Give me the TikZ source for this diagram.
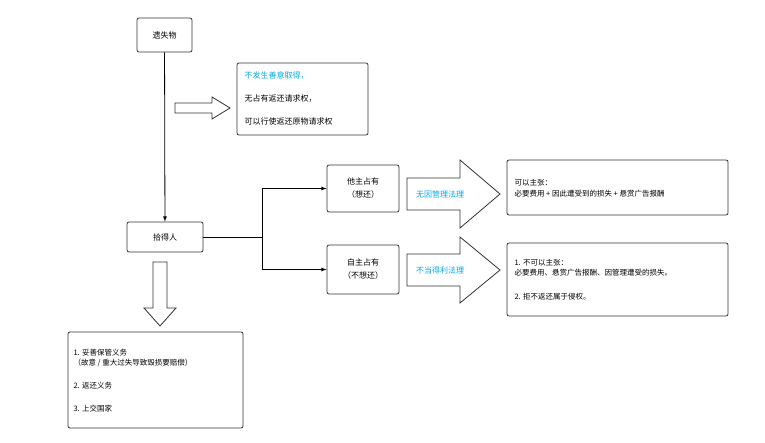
\documentclass[tikz,border=0pt]{standalone}
\usepackage{fontspec}
\setmainfont{Noto Sans CJK SC}
\definecolor{cyanb}{RGB}{0,170,235}
\begin{document}
\begin{tikzpicture}[x=1pt,y=-1pt,
 box/.style={draw=black!80,line width=0.8pt,rounded corners=2pt,fill=white},
 txt/.style={font=\fontsize{8}{11}\selectfont,align=left,anchor=west},
 hol/.style={draw=black!80,line width=0.8pt,fill=white},
 >=latex]
\useasboundingbox (0,0) rectangle (765,443);
\node[box,minimum width=55,minimum height=34,font=\fontsize{8}{10}\selectfont] (ys) at (164.5,35) {遗失物};
\node[box,minimum width=76,minimum height=30,font=\fontsize{8}{10}\selectfont] (sd) at (165,237) {拾得人};
\draw[->,line width=0.8pt] (ys) -- (sd);
\node[box,minimum width=131,minimum height=72] (t1) at (302.5,99) {};
\node[txt,text=cyanb] (t1a) at (241,76) {不发生善意取得，};
\node[txt] (t1b) at (241,99) {无占有返还请求权，};
\node[txt] (t1c) at (241,121) {可以行使返还原物请求权};
\draw[hol] (175,103) -- (212,103) -- (212,97) -- (230,108) -- (212,119) -- (212,113) -- (175,113) -- cycle;
\draw[hol] (153,262) -- (167,262) -- (167,308) -- (176,308) -- (160,326) -- (144,308) -- (153,308) -- cycle;
\node[box,minimum width=175,minimum height=96] (b) at (155.5,380) {};
\node[txt,font=\fontsize{7.5}{10}\selectfont] (b1) at (70,358) {1. 妥善保管义务\\（故意 / 重大过失导致毁损要赔偿）};
\node[txt,font=\fontsize{7.5}{10}\selectfont] (b2) at (70,386) {2. 返还义务};
\node[txt,font=\fontsize{7.5}{10}\selectfont] (b3) at (70,409) {3. 上交国家};
\node[box,minimum width=72,minimum height=47,align=center,font=\fontsize{8}{13}\selectfont] (tz) at (363,188.5) {他主占有\\（想还）};
\node[box,minimum width=72,minimum height=49,align=center,font=\fontsize{8}{13}\selectfont] (zz) at (363,269.5) {自主占有\\（不想还）};
\coordinate (j) at (262,237);
\draw[line width=0.8pt] (sd.east) -- (j);
\draw[->,line width=0.8pt] (j) |- (tz.west);
\draw[->,line width=0.8pt] (j) |- (zz.west);
\draw[hol] (407,178) -- (460,178) -- (460,160) -- (500,194) -- (460,228) -- (460,210) -- (407,210) -- cycle;
\node[font=\fontsize{8}{10}\selectfont,text=cyanb] (l1) at (440,194) {无因管理法理};
\draw[hol] (407,254) -- (460,254) -- (460,237) -- (500,270) -- (460,303) -- (460,286) -- (407,286) -- cycle;
\node[font=\fontsize{8}{10}\selectfont,text=cyanb] (l2) at (440,270) {不当得利法理};
\node[box,minimum width=221,minimum height=55] (r1) at (617.5,187.5) {};
\node[txt,font=\fontsize{7.5}{11}\selectfont] (r1t) at (511,188) {可以主张：\\必要费用 + 因此遭受到的损失 + 悬赏广告报酬};
\node[box,minimum width=221,minimum height=73] (r2) at (617.5,279.5) {};
\node[txt,font=\fontsize{7.5}{10}\selectfont] (r2a) at (511,268) {1. 不可以主张：\\必要费用、悬赏广告报酬、因管理遭受的损失。};
\node[txt,font=\fontsize{7.5}{10}\selectfont] (r2b) at (511,297) {2. 拒不返还属于侵权。};
\end{tikzpicture}
\end{document}
